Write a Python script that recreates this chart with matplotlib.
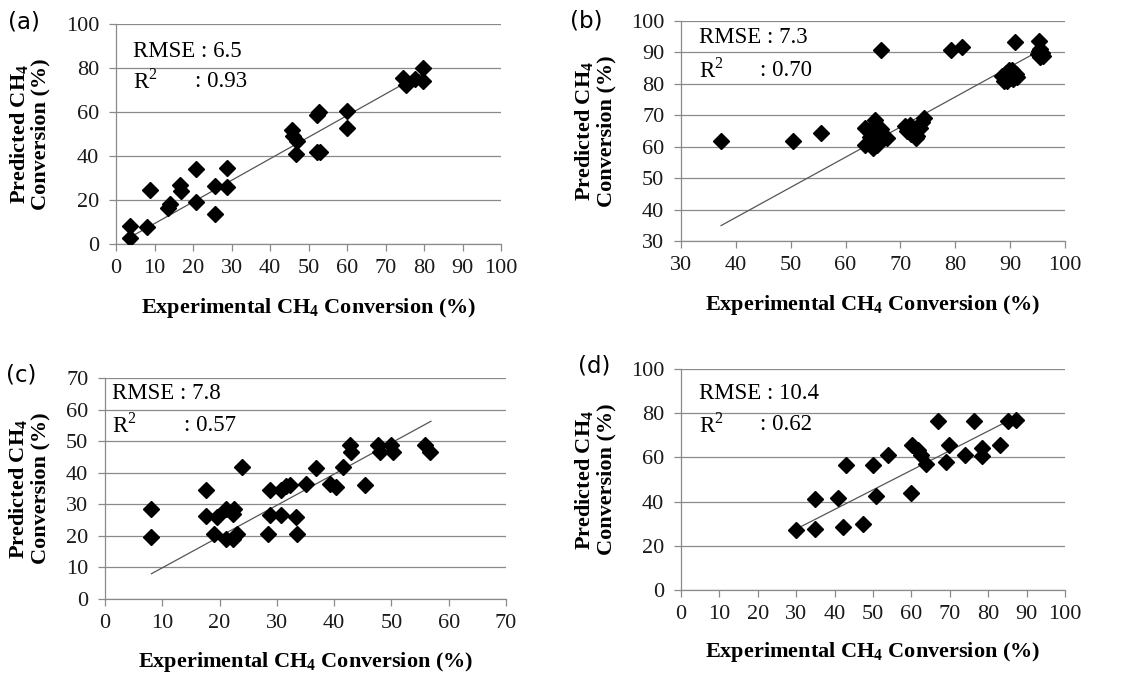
import matplotlib.pyplot as plt

plt.rcParams['font.family'] = ['Liberation Serif', 'DejaVu Serif']
plt.rcParams['mathtext.fontset'] = 'custom'
plt.rcParams['mathtext.rm'] = 'Liberation Serif'
plt.rcParams['mathtext.bf'] = 'Liberation Serif:bold'

# (a)
a_exp = [3.6, 3.6, 8.1, 8.8, 13.6, 14.0, 16.6, 16.9, 20.7, 20.9, 25.7, 25.7, 28.9, 28.9,
         45.8, 46.0, 47.1, 46.7, 52.1, 52.8, 52.1, 53.0, 59.9, 59.9,
         74.6, 75.3, 77.7, 79.7, 79.8]
a_pred = [2.7, 8.0, 7.7, 24.5, 16.2, 18.0, 26.8, 24.2, 34.0, 19.2, 26.4, 13.6, 34.4, 26.1,
          52.0, 48.9, 46.6, 41.0, 58.7, 60.2, 42.0, 42.0, 60.5, 52.6,
          75.3, 72.5, 75.0, 79.9, 74.1]
a_fit_x, a_fit_y = [3.6, 79.8], [3.0, 77.8]

# (b)
b_exp = [37.3, 50.4, 55.6, 66.5, 79.2, 81.2, 90.8,
         63.5, 63.5, 64.5, 65.0, 65.0, 65.3, 65.6, 66.0, 66.3, 67.0, 67.5, 66.5, 64.8, 65.8,
         70.8, 71.2, 71.8, 72.0, 72.8, 73.0, 73.5, 74.0, 74.3,
         88.5, 88.8, 89.2, 89.5, 90.0, 90.3, 90.6, 91.0, 91.2, 89.8,
         95.0, 95.3, 95.5, 95.8, 96.0, 95.5, 95.2]
b_pred = [61.8, 61.8, 64.3, 90.8, 90.8, 91.7, 93.3,
          65.8, 60.5, 63.0, 59.5, 61.0, 68.5, 66.8, 64.5, 62.5, 63.5, 62.8, 65.5, 66.0, 60.5,
          66.5, 65.0, 67.0, 64.0, 62.8, 63.5, 66.0, 67.8, 69.0,
          82.5, 81.0, 83.5, 80.8, 82.0, 84.3, 81.5, 83.0, 82.3, 84.5,
          89.5, 90.5, 88.5, 89.8, 88.8, 91.0, 93.5]
b_fit_x, b_fit_y = [37.3, 95.8], [34.9, 91.0]

# (c)
c_exp = [8.1, 8.1, 17.6, 17.6, 19.5, 19.0, 21.2, 21.2, 22.4, 22.6, 22.4, 23.1, 24.0,
         28.5, 28.8, 28.8, 30.7, 30.7, 31.6, 32.3, 33.3, 33.6, 35.1, 36.9, 39.3, 40.4,
         41.6, 42.7, 43.0, 45.3, 47.7, 48.0, 50.0, 50.3, 55.9, 56.7]
c_pred = [28.6, 19.6, 34.6, 26.2, 26.0, 20.7, 19.1, 28.6, 27.0, 28.6, 19.1, 20.7, 41.8,
          20.5, 34.6, 26.5, 34.6, 26.5, 35.7, 36.0, 26.0, 20.5, 36.3, 41.6, 36.5, 35.5,
          41.8, 48.7, 46.6, 36.0, 48.7, 46.6, 48.7, 46.6, 48.7, 46.6]
c_fit_x, c_fit_y = [8.1, 56.9], [8.0, 56.3]

# (d)
d_exp = [29.9, 35.0, 35.0, 40.9, 42.1, 42.9, 47.4, 49.9, 50.9, 53.8, 59.8, 60.2, 61.8,
         62.6, 63.7, 67.0, 69.0, 69.7, 73.9, 76.3, 78.4, 78.4, 83.0, 85.2, 87.2]
d_pred = [27.1, 41.0, 27.5, 41.8, 28.7, 56.6, 29.7, 56.6, 42.7, 61.1, 43.7, 65.6, 63.3,
          61.1, 57.0, 76.6, 58.1, 65.6, 61.1, 76.6, 64.1, 60.6, 65.6, 76.6, 76.9]
d_fit_x, d_fit_y = [29.9, 87.2], [27.5, 78.3]

panels = [
    ('(a)', a_exp, a_pred, a_fit_x, a_fit_y, (0, 100, 10), (0, 100, 20), '6.5', '0.93'),
    ('(b)', b_exp, b_pred, b_fit_x, b_fit_y, (30, 100, 10), (30, 100, 10), '7.3', '0.70'),
    ('(c)', c_exp, c_pred, c_fit_x, c_fit_y, (0, 70, 10), (0, 70, 10), '7.8', '0.57'),
    ('(d)', d_exp, d_pred, d_fit_x, d_fit_y, (0, 100, 10), (0, 100, 20), '10.4', '0.62'),
]

W, H = 1141, 678
# axes boxes in pixels: left, top, right, bottom
boxes = [(116, 24, 501, 244), (681, 21, 1065, 241), (105, 378, 506, 599), (681, 369, 1065, 590)]
tag_pos = [(8, 22), (570, 21), (6, 375), (578, 366)]
ylab_x = [-0.225, -0.224, -0.19, -0.224]
xlab_y = [-0.29, -0.29, -0.284, -0.279]
# text left edge, colon position on R^2 line
txt_x = [(0.045, 0.204), (0.048, 0.207), (0.018, 0.197), (0.048, 0.207)]
txt_y = [(0.874, 0.738), (0.924, 0.776), (0.929, 0.786), (0.89, 0.747)]

grid_col = '#8a8a8a'
fig = plt.figure(figsize=(W / 100, H / 100), dpi=100)

for i, (tag, xs, ys, fx, fy, xr, yr, rmse, r2) in enumerate(panels):
    l, t, r, b = boxes[i]
    ax = fig.add_axes([l / W, 1 - b / H, (r - l) / W, (b - t) / H])
    ax.plot(fx, fy, color='#555555', lw=0.9, zorder=2)
    ax.plot(xs, ys, linestyle='none', marker='D', ms=8.2, color='black', zorder=3)

    ax.set_xlim(xr[0], xr[1])
    ax.set_ylim(yr[0], yr[1])
    ax.set_xticks(range(xr[0], xr[1] + 1, xr[2]))
    ax.set_yticks(range(yr[0], yr[1] + 1, yr[2]))
    ax.yaxis.grid(True, color=grid_col, lw=0.9)
    ax.set_axisbelow(True)
    for s in ['top', 'right']:
        ax.spines[s].set_visible(False)
    for s in ['left', 'bottom']:
        ax.spines[s].set_color(grid_col)
        ax.spines[s].set_linewidth(0.9)
    ax.tick_params(axis='both', colors=grid_col, labelcolor='#1a1a1a', labelsize=16,
                   length=5, width=0.9, direction='out')
    ax.tick_params(axis='x', pad=6)
    ax.tick_params(axis='y', pad=7)

    ax.set_xlabel(r'Experimental CH$_\mathbf{4}$ Conversion (%)', fontsize=16,
                  fontweight='bold', va='center')
    ax.xaxis.set_label_coords(0.5, xlab_y[i])
    ax.set_ylabel('Predicted CH$_\\mathbf{4}$\nConversion (%)', fontsize=16,
                  fontweight='bold', va='center', linespacing=1.0)
    ax.yaxis.set_label_coords(ylab_x[i], 0.5)

    x0, x2 = txt_x[i]
    y0, y1 = txt_y[i]
    ax.text(x0, y0, 'RMSE : ' + rmse, transform=ax.transAxes, fontsize=16.5, va='center')
    ax.text(x0, y1, 'R$^2$', transform=ax.transAxes, fontsize=16.5, va='center')
    ax.text(x2, y1, ': ' + r2, transform=ax.transAxes, fontsize=16.5, va='center')

    fig.text(tag_pos[i][0] / W, 1 - tag_pos[i][1] / H, tag, fontsize=16.5,
             family='DejaVu Sans', va='center', ha='left')

fig.savefig('out.png', dpi=100)
